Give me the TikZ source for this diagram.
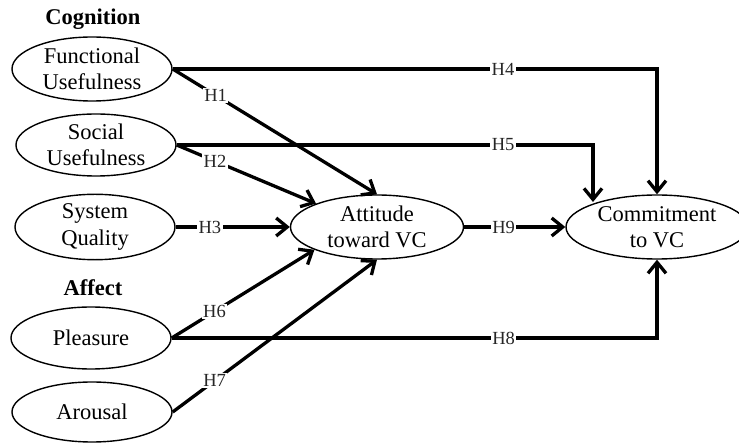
\documentclass[tikz,border=0pt]{standalone}
\usepackage{fontspec}
\setmainfont{Liberation Serif}
\usetikzlibrary{arrows.meta,shapes.geometric}

\begin{document}
\begin{tikzpicture}[x=1pt,y=-1pt,
  construct/.style={ellipse,draw,line width=1.4pt,inner sep=0pt,
    minimum width=160pt,minimum height=62pt,align=center,
    font=\fontsize{22.5}{26.5}\selectfont},
  link/.style={line width=3.3pt,-{Straight Barb[length=11pt,width=18pt]}},
  hyp/.style={fill=white,inner sep=1.5pt,text=black!85,font=\fontsize{18.5}{18.5}\selectfont},
  group/.style={font=\bfseries\fontsize{22.5}{26}\selectfont}
]
\useasboundingbox (0,0) rectangle (739,443);

% group headings
\node[group] (cog) at (93,19) {Cognition};
\node[group] (aff) at (93,288) {Affect};

% antecedent constructs
\node[construct,minimum height=64pt] (fu) at (92,69) {Functional\\Usefulness};
\node[construct] (su) at (96,145) {Social\\Usefulness};
\node[construct] (sq) at (95,227) {System\\Quality};
\node[construct] (pl) at (91,338) {Pleasure};
\node[construct,minimum height=60pt] (ar) at (92,412) {Arousal};

% outcome constructs
\node[construct,minimum width=173pt,minimum height=64pt] (att) at (377,227) {Attitude\\toward VC};
\node[construct,minimum width=182pt,minimum height=64pt] (cm) at (657,227) {Commitment\\to VC};

\coordinate (h5end) at (593,202);

% hypothesised paths
\draw[link] (fu.east) -- node[hyp,pos=0.21] {H1} (att.north);
\draw[link] (su.east) -- node[hyp,pos=0.275] {H2} (att.159);
\draw[link] (sq.east) -- node[hyp,pos=0.3] {H3} (att.west);
\draw[link] (fu.east) -| node[hyp,pos=0.341] {H4} (cm.north);
\draw[link] (su.east) -| node[hyp,pos=0.392] {H5} (h5end);
\draw[link] (pl.east) -- node[hyp,pos=0.3] {H6} (att.200);
\draw[link] (ar.east) -- node[hyp,pos=0.205] {H7} (att.south);
\draw[link] (pl.east) -| node[hyp,pos=0.342] {H8} (cm.south);
\draw[link] (att.east) -- node[hyp,pos=0.39] {H9} (cm.west);
\end{tikzpicture}
\end{document}
